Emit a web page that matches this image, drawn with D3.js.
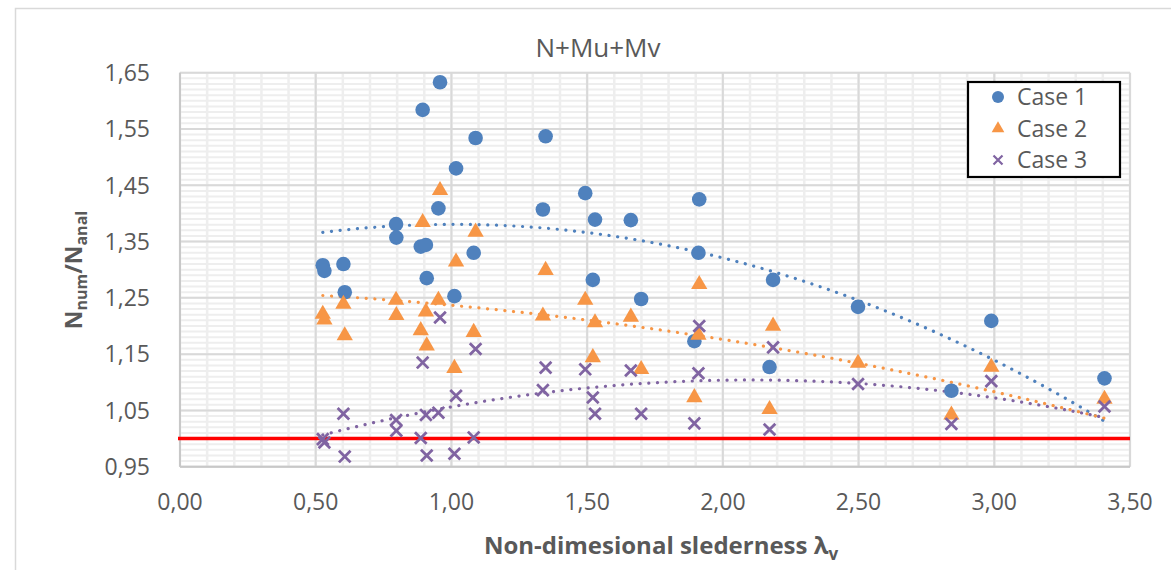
<!DOCTYPE html>
<html>
<head>
<meta charset="utf-8">
<script src="https://cdn.jsdelivr.net/npm/d3@7"></script>
<style>
  body { margin: 0; background: #fff; }
  svg { display: block; font-family: "Open Sans", "Noto Sans", sans-serif; }
</style>
</head>
<body>
<svg id="chart" width="1171" height="570"></svg>
<script>
// slenderness values (shared by the three cases)
var slenderness = [0.526, 0.532, 0.602, 0.607, 0.796, 0.797, 0.887, 0.894, 0.906, 0.909,
                   0.952, 0.958, 1.011, 1.017, 1.082, 1.089, 1.337, 1.347, 1.493, 1.521,
                   1.529, 1.661, 1.699, 1.895, 1.910, 1.913, 2.172, 2.185, 2.498, 2.842,
                   2.989, 3.406];

var case1 = [1.308, 1.298, 1.310, 1.260, 1.381, 1.357, 1.341, 1.584, 1.344, 1.285,
             1.409, 1.633, 1.253, 1.480, 1.330, 1.534, 1.407, 1.537, 1.436, 1.282,
             1.389, 1.388, 1.248, 1.173, 1.330, 1.425, 1.127, 1.282, 1.234, 1.085,
             1.209, 1.107];

var case2 = [1.221, 1.211, 1.239, 1.183, 1.246, 1.219, 1.192, 1.384, 1.225, 1.165,
             1.246, 1.441, 1.125, 1.314, 1.189, 1.367, 1.218, 1.299, 1.246, 1.144,
             1.206, 1.216, 1.123, 1.073, 1.184, 1.274, 1.052, 1.200, 1.134, 1.042,
             1.127, 1.070];

var case3 = [0.999, 0.993, 1.044, 0.968, 1.033, 1.014, 1.001, 1.135, 1.042, 0.970,
             1.046, 1.215, 0.973, 1.076, 1.002, 1.159, 1.086, 1.126, 1.123, 1.073,
             1.044, 1.121, 1.044, 1.027, 1.116, 1.200, 1.016, 1.162, 1.097, 1.026,
             1.102, 1.057];

var seriesNames = ["Case 1", "Case 2", "Case 3"];
var xTicks = [0, 0.5, 1, 1.5, 2, 2.5, 3, 3.5];
var yTicks = [0.95, 1.05, 1.15, 1.25, 1.35, 1.45, 1.55, 1.65];
var limitValue = 1.0;

var colors = ["#4f81bd", "#f79646", "#8064a2"];
var textColor = "#595959";

var svg = d3.select("#chart");
var plotLeft = 180, plotRight = 1130, plotTop = 72.7, plotBottom = 466.7;

var x = d3.scaleLinear().domain([0, 3.5]).range([plotLeft, plotRight]);
var y = d3.scaleLinear().domain([0.95, 1.65]).range([plotBottom, plotTop]);

// outer chart border
svg.append("rect")
    .attr("x", 15.5).attr("y", 8.5)
    .attr("width", 1200).attr("height", 600)
    .attr("fill", "none").attr("stroke", "#d9d9d9").attr("stroke-width", 1.5);

var grid = svg.append("g");

// minor gridlines
grid.selectAll(".hminor")
    .data(d3.range(0, 71).map(function(i) { return 0.95 + i * 0.01; }))
    .enter().append("line")
    .attr("x1", plotLeft).attr("x2", plotRight)
    .attr("y1", function(d) { return y(d); })
    .attr("y2", function(d) { return y(d); })
    .attr("stroke", "#eeeeee").attr("stroke-width", 2);

grid.selectAll(".vminor")
    .data(d3.range(0, 36).map(function(i) { return i * 0.1; }))
    .enter().append("line")
    .attr("y1", plotTop).attr("y2", plotBottom)
    .attr("x1", function(d) { return x(d); })
    .attr("x2", function(d) { return x(d); })
    .attr("stroke", "#eeeeee").attr("stroke-width", 2.5);

// major gridlines
grid.selectAll(".hmajor")
    .data(yTicks)
    .enter().append("line")
    .attr("x1", plotLeft).attr("x2", plotRight)
    .attr("y1", function(d) { return y(d); })
    .attr("y2", function(d) { return y(d); })
    .attr("stroke", "#d9d9d9").attr("stroke-width", 2);

grid.selectAll(".vmajor")
    .data(xTicks)
    .enter().append("line")
    .attr("y1", plotTop).attr("y2", plotBottom)
    .attr("x1", function(d) { return x(d); })
    .attr("x2", function(d) { return x(d); })
    .attr("stroke", "#d9d9d9").attr("stroke-width", 2);

// axis lines
svg.append("line").attr("x1", plotLeft).attr("x2", plotRight).attr("y1", plotBottom).attr("y2", plotBottom)
    .attr("stroke", "#c8c8c8").attr("stroke-width", 2);
svg.append("line").attr("x1", plotLeft).attr("x2", plotLeft).attr("y1", plotTop).attr("y2", plotBottom)
    .attr("stroke", "#c8c8c8").attr("stroke-width", 2);

// tick labels
var fmt = function(d) { return d3.format(".2f")(d).replace(".", ","); };

svg.append("g").selectAll("text")
    .data(yTicks).enter().append("text")
    .attr("x", 150).attr("y", function(d) { return y(d); })
    .attr("dy", "0.36em")
    .attr("text-anchor", "end")
    .attr("font-size", 23).attr("fill", textColor)
    .text(fmt);

svg.append("g").selectAll("text")
    .data(xTicks).enter().append("text")
    .attr("x", function(d) { return x(d); }).attr("y", 510)
    .attr("text-anchor", "middle")
    .attr("font-size", 23).attr("fill", textColor)
    .text(fmt);

// title
svg.append("text")
    .attr("x", 598).attr("y", 57)
    .attr("text-anchor", "middle")
    .attr("font-size", 26).attr("fill", textColor)
    .text("N+Mu+Mv");

// axis titles
var xt = svg.append("text")
    .attr("x", 661).attr("y", 554)
    .attr("text-anchor", "middle")
    .attr("font-size", 24).attr("font-weight", "bold").attr("fill", textColor);
xt.append("tspan").text("Non-dimesional slederness λ");
xt.append("tspan").attr("font-size", 17).attr("dy", 6).text("v");

var yt = svg.append("text")
    .attr("transform", "translate(82,270) rotate(-90)")
    .attr("text-anchor", "middle")
    .attr("font-size", 23).attr("font-weight", "bold").attr("fill", textColor);
yt.append("tspan").text("N");
yt.append("tspan").attr("font-size", 16).attr("dy", 5).text("num");
yt.append("tspan").attr("dy", -5).text("/N");
yt.append("tspan").attr("font-size", 16).attr("dy", 5).text("anal");

// red reference line at 1,00
svg.append("line")
    .attr("x1", plotLeft - 2).attr("x2", plotRight)
    .attr("y1", y(limitValue)).attr("y2", y(limitValue))
    .attr("stroke", "#ff0000").attr("stroke-width", 3.5);

// quadratic least-squares trendline (like Excel polynomial order 2)
function polyFit2(xs, ys) {
    var n = xs.length, s = [0, 0, 0, 0, 0], t = [0, 0, 0];
    for (var i = 0; i < n; i++) {
        var p = 1;
        for (var k = 0; k < 5; k++) { s[k] += p; if (k < 3) t[k] += p * ys[i]; p *= xs[i]; }
    }
    var M = [[s[0], s[1], s[2], t[0]], [s[1], s[2], s[3], t[1]], [s[2], s[3], s[4], t[2]]];
    for (var c = 0; c < 3; c++) {
        for (var r = c + 1; r < 3; r++) {
            var f = M[r][c] / M[c][c];
            for (var j = c; j < 4; j++) M[r][j] -= f * M[c][j];
        }
    }
    var b = [0, 0, 0];
    for (var r2 = 2; r2 >= 0; r2--) {
        var v = M[r2][3];
        for (var j2 = r2 + 1; j2 < 3; j2++) v -= M[r2][j2] * b[j2];
        b[r2] = v / M[r2][r2];
    }
    return function(xv) { return b[0] + b[1] * xv + b[2] * xv * xv; };
}

var allCases = [case1, case2, case3];
var xmin = d3.min(slenderness), xmax = d3.max(slenderness);
var line = d3.line().x(function(d) { return x(d[0]); }).y(function(d) { return y(d[1]); });

allCases.forEach(function(vals, i) {
    var f = polyFit2(slenderness, vals);
    var pts = d3.range(0, 101).map(function(k) {
        var xv = xmin + (xmax - xmin) * k / 100;
        return [xv, f(xv)];
    });
    svg.append("path")
        .attr("d", line(pts))
        .attr("fill", "none")
        .attr("stroke", colors[i])
        .attr("stroke-width", 3.2)
        .attr("stroke-linecap", "round")
        .attr("stroke-dasharray", "0.1 8.6");
});

// markers
svg.append("g").selectAll("circle")
    .data(slenderness.map(function(d, i) { return [d, case1[i]]; }))
    .enter().append("circle")
    .attr("cx", function(d) { return x(d[0]); })
    .attr("cy", function(d) { return y(d[1]); })
    .attr("r", 7.3)
    .attr("fill", colors[0]);

var tri = d3.symbol().type(d3.symbolTriangle).size(115);
svg.append("g").selectAll("path")
    .data(slenderness.map(function(d, i) { return [d, case2[i]]; }))
    .enter().append("path")
    .attr("d", tri)
    .attr("transform", function(d) { return "translate(" + x(d[0]) + "," + y(d[1]) + ")"; })
    .attr("fill", colors[1]);

var cross = "M-5.8,-5.8L5.8,5.8M-5.8,5.8L5.8,-5.8";
svg.append("g").selectAll("path")
    .data(slenderness.map(function(d, i) { return [d, case3[i]]; }))
    .enter().append("path")
    .attr("d", cross)
    .attr("transform", function(d) { return "translate(" + x(d[0]) + "," + y(d[1]) + ")"; })
    .attr("stroke", colors[2]).attr("stroke-width", 2.8).attr("fill", "none");

// legend
var lg = svg.append("g");
lg.append("rect")
    .attr("x", 968).attr("y", 82).attr("width", 152).attr("height", 95)
    .attr("fill", "#fff").attr("stroke", "#000").attr("stroke-width", 2.2);

seriesNames.forEach(function(name, i) {
    var ly = 97 + i * 31.5;
    if (i === 0) {
        lg.append("circle").attr("cx", 998).attr("cy", ly).attr("r", 6).attr("fill", colors[0]);
    } else if (i === 1) {
        lg.append("path").attr("d", d3.symbol().type(d3.symbolTriangle).size(70))
            .attr("transform", "translate(998," + ly + ")").attr("fill", colors[1]);
    } else {
        lg.append("path").attr("d", "M-4.5,-4.5L4.5,4.5M-4.5,4.5L4.5,-4.5")
            .attr("transform", "translate(998," + ly + ")")
            .attr("stroke", colors[2]).attr("stroke-width", 2.2);
    }
    lg.append("text")
        .attr("x", 1017).attr("y", ly).attr("dy", "0.36em")
        .attr("font-size", 23).attr("fill", textColor)
        .text(name);
});
</script>
</body>
</html>
